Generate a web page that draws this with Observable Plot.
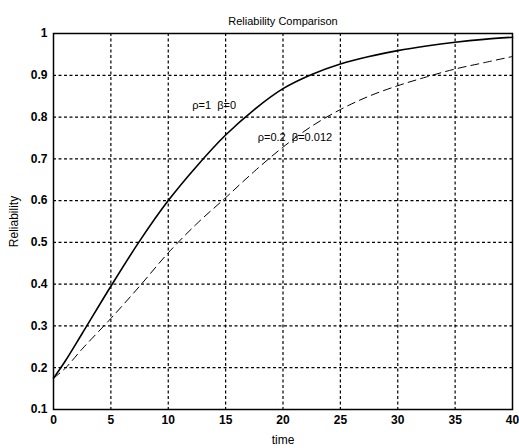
<!DOCTYPE html>
<html>
<head>
<meta charset="utf-8">
<script src="https://cdn.jsdelivr.net/npm/d3@7"></script>
<script src="https://cdn.jsdelivr.net/npm/@observablehq/plot@0.6"></script>
<style>
  html, body { margin: 0; padding: 0; background: #fff; }
  svg { display: block; }
</style>
</head>
<body>
<div id="chart"></div>
<script>
// Time samples (x axis)
const time = [0, 1, 2.5, 5, 7.5, 10, 12.5, 15, 17.5, 20, 22.5, 25, 27.5, 30, 32.5, 35, 37.5, 40];
// Solid series: rho=1, beta=0
const reliabilitySolid = [0.175, 0.215, 0.282, 0.395, 0.503, 0.6, 0.683, 0.757, 0.818, 0.868, 0.902, 0.927, 0.945, 0.959, 0.97, 0.979, 0.986, 0.991];
// Dashed series: rho=0.2, beta=0.012
const reliabilityDashed = [0.175, 0.198, 0.245, 0.318, 0.395, 0.475, 0.545, 0.607, 0.67, 0.728, 0.778, 0.818, 0.85, 0.875, 0.896, 0.915, 0.93, 0.945];
// Tick values
const xTicks = [0, 5, 10, 15, 20, 25, 30, 35, 40];
const yTicks = [0.1, 0.2, 0.3, 0.4, 0.5, 0.6, 0.7, 0.8, 0.9, 1];
// Annotations
const labelText = ["ρ=1  β=0", "ρ=0.2  β=0.012"];
const labelX = [12.1, 17.8];
const labelY = [0.827, 0.75];
const titleText = "Reliability Comparison";
const xLabel = "time";
const yLabel = "Reliability";

const solid = time.map((t, i) => ({t, r: reliabilitySolid[i]}));
const dashed = time.map((t, i) => ({t, r: reliabilityDashed[i]}));
const labels = labelText.map((s, i) => ({s, x: labelX[i], y: labelY[i]}));

const chart = Plot.plot({
  width: 519,
  height: 448,
  marginLeft: 53,
  marginRight: 7,
  marginTop: 33,
  marginBottom: 39,
  style: {fontFamily: "'Liberation Sans', Arial, sans-serif", fontSize: "12px", color: "#000", background: "#fff"},
  x: {domain: [0, 40]},
  y: {domain: [0.1, 1]},
  marks: [
    Plot.ruleX(xTicks.slice(1, -1), {stroke: "#000", strokeWidth: 1.2, strokeDasharray: "3,2.5"}),
    Plot.ruleY(yTicks.slice(1, -1), {stroke: "#000", strokeWidth: 1.2, strokeDasharray: "3,2.5"}),
    Plot.axisX({ticks: xTicks, tickSize: 0, tickPadding: 6, tickFormat: d3.format("d"), fontSize: 12, fontWeight: "bold", label: null}),
    Plot.axisX({ticks: [], tickSize: 0, fontSize: 12, label: xLabel, labelAnchor: "center", labelArrow: "none", labelOffset: 34}),
    Plot.axisY({ticks: yTicks, tickSize: 0, tickPadding: 6, tickFormat: d => d === 1 ? "1" : d3.format(".1f")(d), fontSize: 12, fontWeight: "bold", label: null}),
    Plot.axisY({ticks: [], tickSize: 0, fontSize: 12, label: yLabel, labelAnchor: "center", labelArrow: "none", labelOffset: 44}),
    Plot.line(solid, {x: "t", y: "r", stroke: "#000", strokeWidth: 1.6, curve: "catmull-rom"}),
    Plot.line(dashed, {x: "t", y: "r", stroke: "#000", strokeWidth: 1, strokeDasharray: "8,5", curve: "catmull-rom"}),
    Plot.text(labels, {x: "x", y: "y", text: "s", textAnchor: "start", fontSize: 11, fill: "#000"}),
    Plot.text([titleText], {frameAnchor: "top", dy: -16, fontSize: 11, fill: "#000"}),
    Plot.frame({stroke: "#000", strokeWidth: 1.5})
  ]
});
document.getElementById("chart").appendChild(chart);
</script>
</body>
</html>
